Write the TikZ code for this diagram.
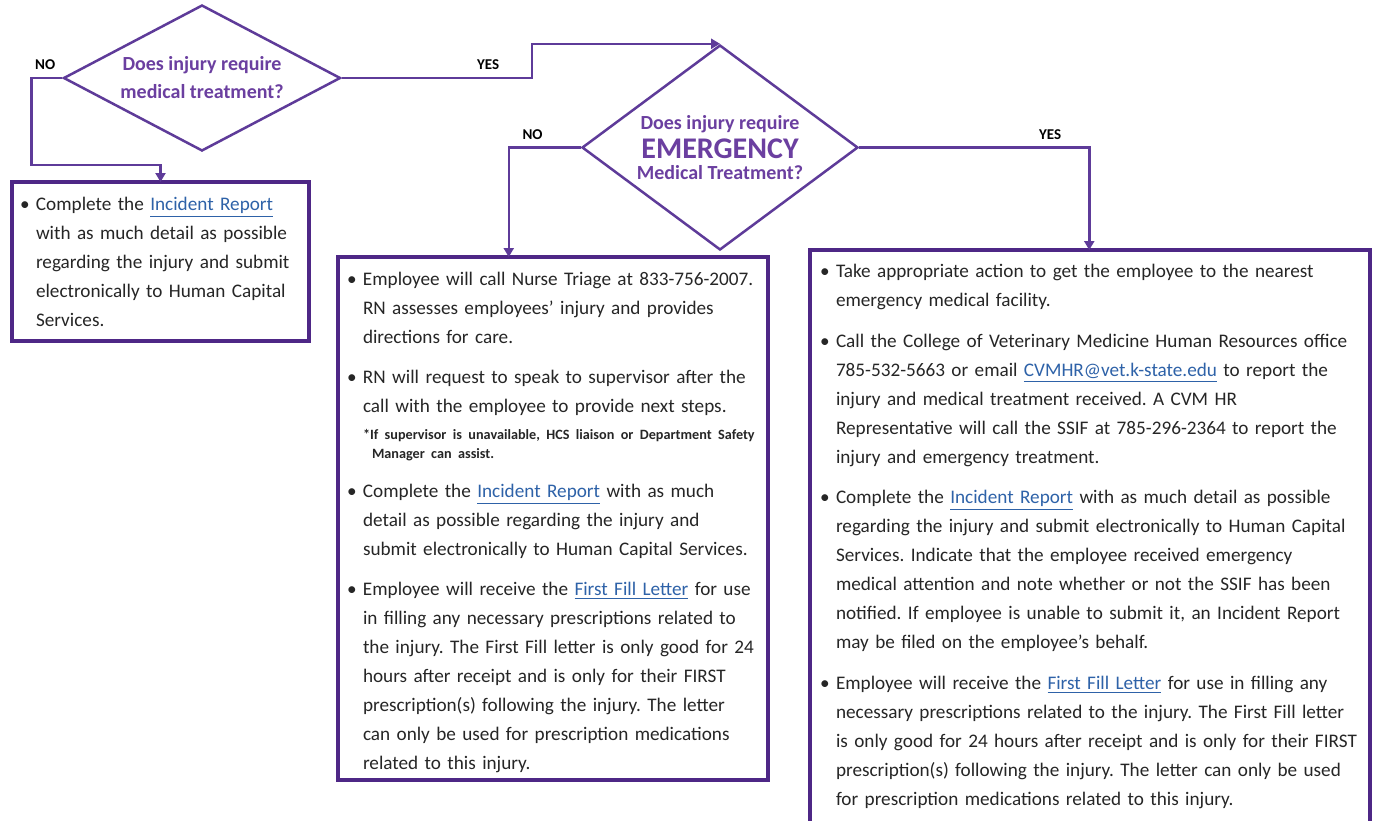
\documentclass[tikz,border=0pt]{standalone}
\usepackage{fontspec}
\setmainfont{Carlito}
\usepackage{xcolor}
\usetikzlibrary{shapes.geometric, arrows.meta, positioning, calc}

\definecolor{boxpurple}{HTML}{4E2786}
\definecolor{linepurple}{HTML}{5E3B99}
\definecolor{askpurple}{HTML}{6B3FA0}
\definecolor{linkblue}{HTML}{2E62A8}
\definecolor{bodytext}{HTML}{262626}

% bullet point with hanging indent
\newcommand{\bitem}[1]{{\let\\\newline\rightskip=0pt plus 1fil minus 20pt\noindent\hangindent=8pt\hangafter=1\makebox[8pt][l]{\textbullet}#1\par}}
\newcommand{\lnk}[1]{{\color{linkblue}\underline{#1}}}
\newcommand{\notefont}{\fontsize{7.1}{9.5}\selectfont\bfseries}
\frenchspacing

\begin{document}
\begin{tikzpicture}[x=0.5pt, y=-0.5pt,
        decision/.style={diamond, draw=linepurple, line width=1.25pt, inner sep=0pt, align=center, text=askpurple, font=\bfseries\fontsize{10}{14}\selectfont},
        infobox/.style={rectangle, draw=boxpurple, line width=2pt, fill=white, anchor=north west, outer sep=0pt, align=left, text=bodytext, font=\fontsize{9.6}{14.5}\selectfont},
        arrow/.style={-{Triangle[length=4.5pt, width=5pt]}, line width=1.25pt, draw=linepurple},
        answer/.style={above, font=\bfseries\fontsize{7.5}{9}\selectfont, text=black}
    ]
        \path [use as bounding box, fill=white] (0,0) rectangle (1376,820);

        % Preguntas
        \node [decision, aspect=1.9, minimum width=138.5pt, minimum height=73pt] (medq) at (202,78) {Does injury require\\medical treatment?};
        \node [decision, aspect=1.35, minimum width=138pt, minimum height=102.5pt] (emerq) at (720,147.5) {Does injury require\\[0.5pt]{\fontsize{15}{16}\selectfont EMERGENCY}\\[-3.5pt]Medical Treatment?};

        % Cajas de acciones
        \node [infobox, minimum width=148.5pt, minimum height=79.5pt, inner xsep=4pt, text width=140.5pt] (report) at (12,182) {%
            \bitem{Complete the \lnk{Incident Report}\\with as much detail as possible\\regarding the injury and submit\\electronically to Human Capital\\Services.}};

        \node [infobox, minimum width=215pt, minimum height=261.5pt, inner xsep=4.5pt, text width=206pt] (nurse) at (338,257) {%
            \bitem{Employee will call Nurse Triage at 833-756-2007.\\RN assesses employees’ injury and provides\\directions for care.}
            \vspace{5.5pt}
            \bitem{RN will request to speak to supervisor after the\\call with the employee to provide next steps.}
            \vspace{4pt}
            {\notefont\let\\\newline\rightskip=0pt plus 1fil minus 20pt\leftskip=8pt\hangindent=4.5pt\hangafter=1\noindent *If supervisor is unavailable, HCS liaison or Department Safety\\Manager can assist.\par}
            \vspace{5pt}
            \bitem{Complete the \lnk{Incident Report} with as much\\detail as possible regarding the injury and\\submit electronically to Human Capital Services.}
            \vspace{5.5pt}
            \bitem{Employee will receive the \lnk{First Fill Letter} for use\\in filling any necessary prescriptions related to\\the injury. The First Fill letter is only good for 24\\hours after receipt and is only for their FIRST\\prescription(s) following the injury. The letter\\can only be used for prescription medications\\related to this injury.}
            \vspace{-4pt}};

        \node [infobox, minimum width=280pt, minimum height=286.5pt, inner xsep=5pt, text width=270pt] (facility) at (810,250) {%
            \bitem{Take appropriate action to get the employee to the nearest\\emergency medical facility.}
            \vspace{6pt}
            \bitem{Call the College of Veterinary Medicine Human Resources office\\785-532-5663 or email \lnk{CVMHR@vet.k-state.edu} to report the\\injury and medical treatment received. A CVM HR\\Representative will call the SSIF at 785-296-2364 to report the\\injury and emergency treatment.}
            \vspace{5.5pt}
            \bitem{Complete the \lnk{Incident Report} with as much detail as possible\\regarding the injury and submit electronically to Human Capital\\Services. Indicate that the employee received emergency\\medical attention and note whether or not the SSIF has been\\notified. If employee is unable to submit it, an Incident Report\\may be filed on the employee’s behalf.}
            \vspace{6pt}
            \bitem{Employee will receive the \lnk{First Fill Letter} for use in filling any\\necessary prescriptions related to the injury. The First Fill letter\\is only good for 24 hours after receipt and is only for their FIRST\\prescription(s) following the injury. The letter can only be used\\for prescription medications related to this injury.}};

        % Conectores
        \draw [arrow] (medq.west) -- node[answer, pos=0.55] {NO} ++(-31,0) -- ++(0,87) -| (report.north);
        \draw [arrow] (medq.east) -- node[answer, pos=0.77] {YES} ++(190,0) |- (emerq.north);
        \draw [arrow] (emerq.west) -- node[answer, pos=0.67] {NO} ++(-72,0) coordinate (nobend) -- (nobend |- nurse.north);
        \draw [arrow] (emerq.east) -- node[answer, pos=0.83] {YES} ++(230,0) coordinate (yesbend) -- (yesbend |- facility.north);
    \end{tikzpicture}
\end{document}
